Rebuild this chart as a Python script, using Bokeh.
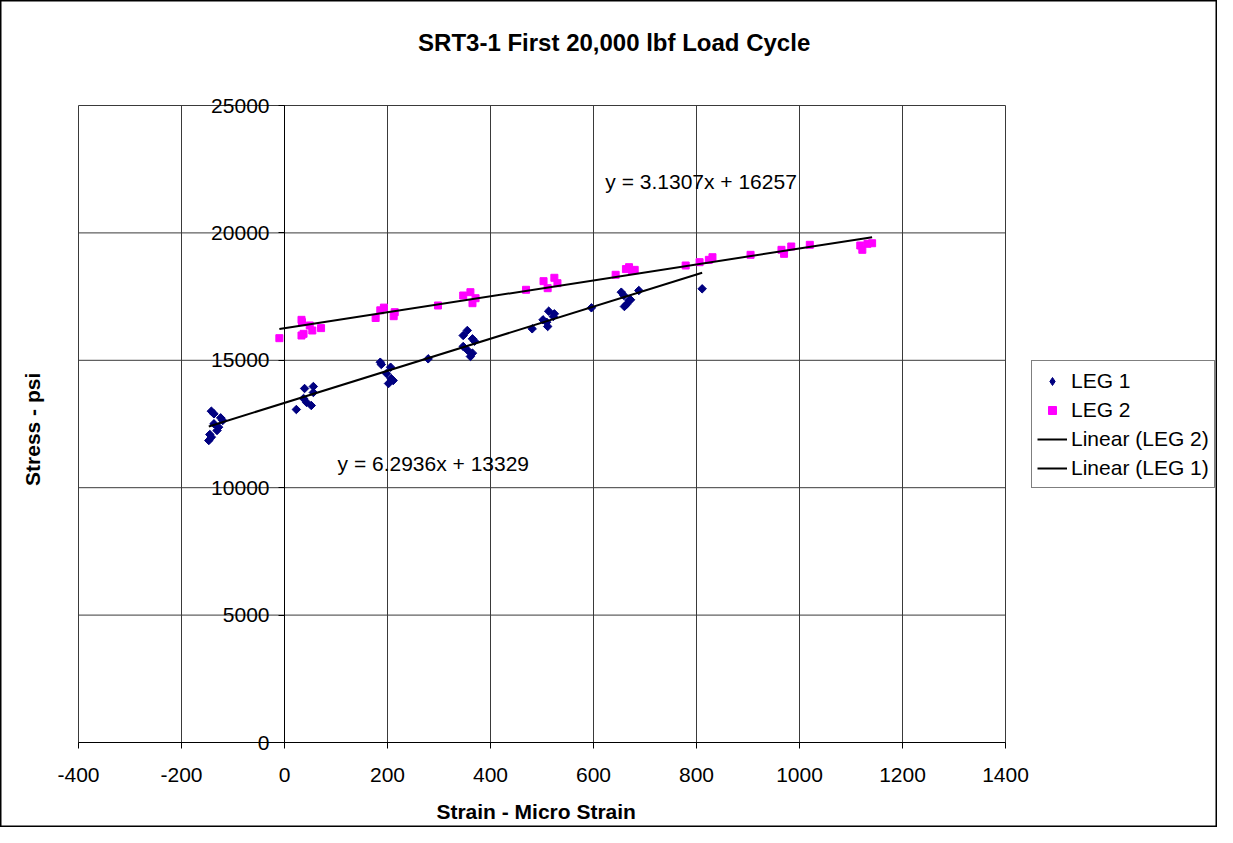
import math
from bokeh.plotting import figure
from bokeh.models import Range1d, Legend, LegendItem, Label, FixedTicker
from bokeh.embed import file_html
from bokeh.resources import INLINE

FONT = "Liberation Sans"

# ---- data ----
leg1_x = [-142, -137, -124, -120, -137, -128, -131, -145, -142, -147,
          39, 56, 56, 37, 43, 52, 23,
          186, 188, 206, 198, 207, 202, 211,
          279,
          355, 347, 365, 369, 347, 356, 365, 361,
          481, 502, 513, 524, 511, 522, 509,
          596,
          654, 659, 669, 664, 660, 672, 688,
          811]
leg1_y = [13003, 12900, 12743, 12637, 12508, 12375, 12245, 12088, 11983, 11852,
          13893, 13972, 13736, 13501, 13344, 13226, 13069,
          14925, 14835, 14729, 14482, 14286, 14089, 14207,
          15058,
          16170, 15973, 15843, 15750, 15542, 15385, 15280, 15149,
          16236, 16589, 16927, 16824, 16327, 16719, 16495,
          17060,
          17673, 17543, 17347, 17190, 17111, 17374, 17739,
          17806]

leg2_x = [-10,
          33, 34, 49, 54, 37, 33, 71,
          177, 186, 193, 214, 212,
          298,
          347, 361, 371, 365,
          469,
          503, 524, 530, 511,
          643,
          669, 675, 680, 663,
          779, 806, 824, 831,
          905,
          965, 970, 984,
          1020,
          1118, 1122, 1132, 1141]
leg2_y = [15868,
          16588, 16495, 16366, 16170, 16039, 15973, 16263,
          16660, 16962, 17068, 16888, 16731,
          17151,
          17543, 17673, 17437, 17241,
          17767,
          18105, 18238, 18026, 17830,
          18356,
          18654, 18524, 18550, 18580,
          18721, 18851, 18943, 19046,
          19140,
          19336, 19179, 19466,
          19533,
          19505, 19336, 19572, 19595]

fit1 = (6.2936, 13329)   # LEG 1 linear trend: slope, intercept
fit2 = (3.1307, 16257)   # LEG 2 linear trend: slope, intercept
eq1_text = "y = 6.2936x + 13329"
eq2_text = "y = 3.1307x + 16257"
eq1_pos = (103, 10950)
eq2_pos = (623, 22017)

x_ticks = [-400, -200, 0, 200, 400, 600, 800, 1000, 1200, 1400]
y_ticks = [0, 5000, 10000, 15000, 20000, 25000]

title_text = "SRT3-1  First 20,000 lbf Load Cycle"
x_label = "Strain  -  Micro Strain"
y_label = "Stress  -  psi"

# ---- layout (pixels) ----
W, H = 1217, 827
PA_L, PA_R, PA_T, PA_B = 78, 1005, 105, 742     # plot area in canvas pixels
xmin, xmax = x_ticks[0], x_ticks[-1]
ymin, ymax = y_ticks[0], y_ticks[-1]
sx = (xmax - xmin) / (PA_R - PA_L)
sy = (ymax - ymin) / (PA_B - PA_T)
x_lo = xmin - PA_L * sx
x_hi = x_lo + W * sx
y_hi = ymax + PA_T * sy
y_lo = y_hi - H * sy


def px2x(px):
    return x_lo + px * sx


def py2y(py):
    return y_hi - py * sy


p = figure(width=W, height=H, output_backend="svg", toolbar_location=None,
           x_range=Range1d(x_lo, x_hi), y_range=Range1d(y_lo, y_hi),
           min_border=0)
p.background_fill_color = "white"
p.border_fill_color = "white"
p.outline_line_color = "black"
p.outline_line_width = 2
p.xgrid.visible = False
p.ygrid.visible = False

# plot-area grid and border
GRID = "#3a3a3a"
p.segment(x0=x_ticks, y0=[ymin] * len(x_ticks), x1=x_ticks, y1=[ymax] * len(x_ticks),
          line_color=GRID, line_width=1)
p.segment(x0=[xmin] * len(y_ticks), y0=y_ticks, x1=[xmax] * len(y_ticks), y1=y_ticks,
          line_color=GRID, line_width=1)

TICK_FS = "21px"

# x axis along y = 0
xa = p.xaxis[0]
xa.fixed_location = ymin
xa.bounds = (xmin, xmax)
xa.ticker = FixedTicker(ticks=x_ticks)
xa.major_label_overrides = {t: str(t) for t in x_ticks}
xa.axis_line_color = "black"
xa.major_tick_line_color = "black"
xa.major_tick_out = 6
xa.major_tick_in = 0
xa.minor_tick_line_color = None
xa.major_label_text_font = FONT
xa.major_label_text_font_size = TICK_FS
xa.major_label_text_color = "black"
xa.major_label_standoff = 19
xa.axis_label = x_label
xa.axis_label_text_font = FONT
xa.axis_label_text_font_size = "21px"
xa.axis_label_text_font_style = "bold"
xa.axis_label_text_color = "black"
xa.axis_label_standoff = 15

# y axis crossing at x = 0
ya = p.yaxis[0]
ya.fixed_location = 0
ya.bounds = (ymin, ymax)
ya.ticker = FixedTicker(ticks=y_ticks)
ya.axis_line_color = "black"
ya.major_tick_line_color = "black"
ya.major_tick_out = 6
ya.major_tick_in = 0
ya.minor_tick_line_color = None
ya.major_label_text_font = FONT
ya.major_label_text_font_size = TICK_FS
ya.major_label_text_color = "black"
ya.major_label_standoff = 9

# data
NAVY, MAGENTA = "#000080", "#FF00FF"
# diamond core (also the legend swatch), covered by the rotated-square marks
r1_key = p.scatter(leg1_x, leg1_y, marker="diamond", size=7,
                   fill_color=NAVY, line_color=NAVY)
r1 = p.scatter(leg1_x, leg1_y, marker="square", size=6, angle=math.pi / 4,
               fill_color=NAVY, line_color=NAVY)
r2 = p.scatter(leg2_x, leg2_y, marker="square", size=7,
               fill_color=MAGENTA, line_color=MAGENTA)

x1 = [min(leg1_x), max(leg1_x)]
x2 = [min(leg2_x), max(leg2_x)]
t1 = p.line(x1, [fit1[0] * v + fit1[1] for v in x1], line_color="black", line_width=2)
t2 = p.line(x2, [fit2[0] * v + fit2[1] for v in x2], line_color="black", line_width=2)

for txt, (lx, ly) in ((eq2_text, eq2_pos), (eq1_text, eq1_pos)):
    p.add_layout(Label(x=lx, y=ly, text=txt, text_font=FONT, text_font_size="21px",
                       text_baseline="middle", text_align="left", text_color="black"))

# title and y-axis label
p.add_layout(Label(x=px2x(617), y=py2y(42), text=title_text, text_font=FONT,
                   text_font_size="24px", text_font_style="bold", text_color="black",
                   text_align="center", text_baseline="middle"))
p.add_layout(Label(x=px2x(32), y=py2y(423), text=y_label, text_font=FONT,
                   text_font_size="21px", text_font_style="bold", text_color="black",
                   text_align="center", text_baseline="middle", angle=math.pi / 2))

legend = Legend(items=[LegendItem(label="LEG 1", renderers=[r1_key]),
                       LegendItem(label="LEG 2", renderers=[r2]),
                       LegendItem(label="Linear (LEG 2)", renderers=[t2]),
                       LegendItem(label="Linear (LEG 1)", renderers=[t1])],
                location=(1031, H - 488), orientation="vertical")
legend.border_line_color = "black"
legend.border_line_width = 1
legend.background_fill_color = "white"
legend.label_text_font = FONT
legend.label_text_font_size = "21px"
legend.label_text_color = "black"
legend.glyph_width = 30
legend.glyph_height = 20
legend.label_height = 29
legend.label_standoff = 4
legend.spacing = 0
legend.padding = 5
legend.margin = 0
p.add_layout(legend, "center")

open("out.html", "w").write(file_html(p, INLINE))
